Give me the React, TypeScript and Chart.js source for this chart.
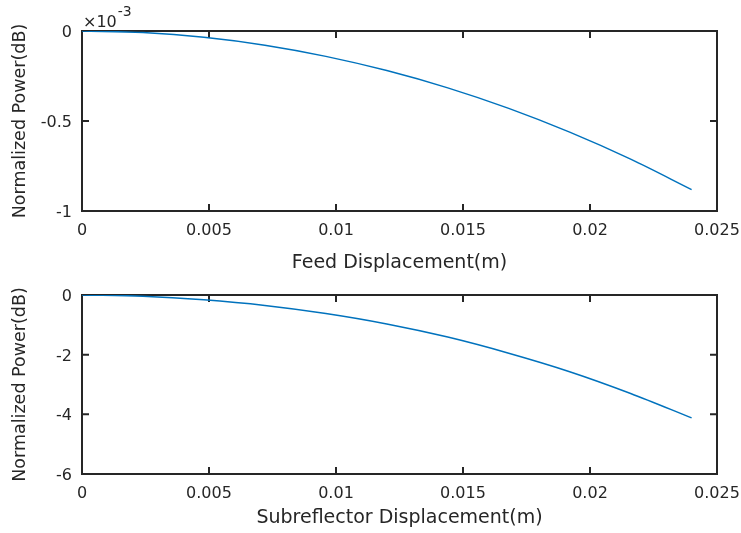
import { useEffect, useRef } from 'react';
import { Chart, registerables } from 'chart.js';

Chart.register(...registerables);

// ---- data ----
const displacement = [0, 0.0024, 0.0048, 0.0072, 0.0096, 0.012, 0.0144, 0.0168, 0.0192, 0.0216, 0.024];
// feed displacement, normalized power in units of 1e-3 dB
const feedPower = [0, -0.009, -0.035, -0.079, -0.141, -0.22, -0.316, -0.43, -0.562, -0.712, -0.881];
const feedExponent = '-3';
// subreflector displacement, normalized power in dB
const subreflectorPower = [0, -0.04, -0.16, -0.35, -0.62, -0.97, -1.41, -1.95, -2.57, -3.3, -4.12];

const xTicks = [0, 0.005, 0.01, 0.015, 0.02, 0.025];
const feedYTicks = [-1, -0.5, 0];
const subYTicks = [-6, -4, -2, 0];

const FONT = 'DejaVu Sans';
const INK = '#262626';
const LINE = '#0072BD';

const framePlugin = {
  id: 'matlabFrame',
  beforeDatasetsDraw(chart: any) {
    const { ctx, chartArea: a, scales } = chart;
    const tl = 7;
    ctx.save();
    ctx.strokeStyle = INK;
    ctx.lineWidth = 2;
    ctx.beginPath();
    for (const t of scales.x.ticks) {
      const p = scales.x.getPixelForValue(t.value);
      ctx.moveTo(p, a.bottom);
      ctx.lineTo(p, a.bottom - tl);
      ctx.moveTo(p, a.top);
      ctx.lineTo(p, a.top + tl);
    }
    for (const t of scales.y.ticks) {
      const p = scales.y.getPixelForValue(t.value);
      ctx.moveTo(a.left, p);
      ctx.lineTo(a.left + tl, p);
      ctx.moveTo(a.right, p);
      ctx.lineTo(a.right - tl, p);
    }
    ctx.stroke();
    ctx.strokeRect(a.left, a.top, a.right - a.left, a.bottom - a.top);
    ctx.restore();
  },
};

const exponentPlugin = {
  id: 'exponentLabel',
  afterDraw(chart: any) {
    const exp = chart.options.plugins?.exponentLabel?.text;
    if (!exp) return;
    const { ctx, chartArea: a } = chart;
    ctx.save();
    ctx.fillStyle = INK;
    ctx.textAlign = 'left';
    ctx.textBaseline = 'alphabetic';
    ctx.font = `16px "${FONT}"`;
    const base = '\u00D710';
    const x0 = a.left + 1;
    ctx.fillText(base, x0, a.top - 4);
    const w = ctx.measureText(base).width;
    ctx.font = `14px "${FONT}"`;
    ctx.fillText(exp, x0 + w + 1, a.top - 15);
    ctx.restore();
  },
};

function fmtX(v: number) {
  return String(+Number(v).toFixed(4));
}
function fmtY(v: number) {
  return String(+Number(v).toFixed(3));
}

function makeConfig(
  ys: number[],
  yMin: number,
  yMax: number,
  yTicks: number[],
  xTitle: string,
  padTop: number,
  xHeight: number,
  xTitlePadBottom: number,
  exponent: string | null
): any {
  return {
    type: 'line',
    data: {
      datasets: [
        {
          data: displacement.map((x, i) => ({ x, y: ys[i] })),
          borderColor: LINE,
          borderWidth: 1.5,
          pointRadius: 0,
          fill: false,
          cubicInterpolationMode: 'monotone',
        },
      ],
    },
    options: {
      responsive: false,
      maintainAspectRatio: false,
      animation: false,
      layout: { padding: { top: padTop, right: 24, left: 0, bottom: 0 } },
      plugins: {
        legend: { display: false },
        tooltip: { enabled: false },
        exponentLabel: { text: exponent },
      },
      scales: {
        x: {
          type: 'linear',
          min: 0,
          max: 0.025,
          afterBuildTicks: (s: any) => {
            s.ticks = xTicks.map((value) => ({ value }));
          },
          afterFit: (s: any) => {
            s.height = xHeight;
            s.paddingLeft = 0;
            s.paddingRight = 0;
          },
          grid: { display: false, drawTicks: false },
          border: { display: false },
          ticks: {
            callback: (v: any) => fmtX(v),
            font: { family: FONT, size: 16 },
            color: INK,
            padding: 10,
            maxRotation: 0,
            autoSkip: false,
          },
          title: {
            display: true,
            text: xTitle,
            font: { family: FONT, size: 19 },
            color: INK,
            padding: { top: 0, bottom: xTitlePadBottom },
          },
        },
        y: {
          type: 'linear',
          min: yMin,
          max: yMax,
          afterBuildTicks: (s: any) => {
            s.ticks = yTicks.map((value) => ({ value }));
          },
          afterFit: (s: any) => {
            s.width = 82;
            s.paddingTop = 0;
            s.paddingBottom = 0;
          },
          grid: { display: false, drawTicks: false },
          border: { display: false },
          ticks: {
            callback: (v: any) => fmtY(v),
            font: { family: FONT, size: 16 },
            color: INK,
            padding: 10,
            labelOffset: 2,
            autoSkip: false,
          },
          title: {
            display: true,
            text: 'Normalized Power(dB)',
            font: { family: FONT, size: 17.5 },
            color: INK,
            padding: { top: 10, bottom: 0 },
          },
        },
      },
    },
    plugins: [framePlugin, exponentPlugin],
  };
}

export default function App() {
  const topRef = useRef<HTMLCanvasElement | null>(null);
  const botRef = useRef<HTMLCanvasElement | null>(null);

  useEffect(() => {
    const charts: Chart[] = [];
    if (topRef.current) {
      charts.push(
        new Chart(
          topRef.current,
          makeConfig(feedPower, -1, 0, feedYTicks, 'Feed Displacement(m)', 31, 65, 2, feedExponent)
        )
      );
    }
    if (botRef.current) {
      charts.push(
        new Chart(
          botRef.current,
          makeConfig(subreflectorPower, -6, 0, subYTicks, 'Subreflector Displacement(m)', 19, 59, 4, null)
        )
      );
    }
    return () => charts.forEach((c) => c.destroy());
  }, []);

  return (
    <div style={{ position: 'absolute', left: 0, top: 0, width: 741, height: 533, background: '#ffffff' }}>
      <canvas ref={topRef} width={741} height={276} style={{ position: 'absolute', left: 0, top: 0, display: 'block' }} />
      <canvas ref={botRef} width={741} height={257} style={{ position: 'absolute', left: 0, top: 276, display: 'block' }} />
    </div>
  );
}
